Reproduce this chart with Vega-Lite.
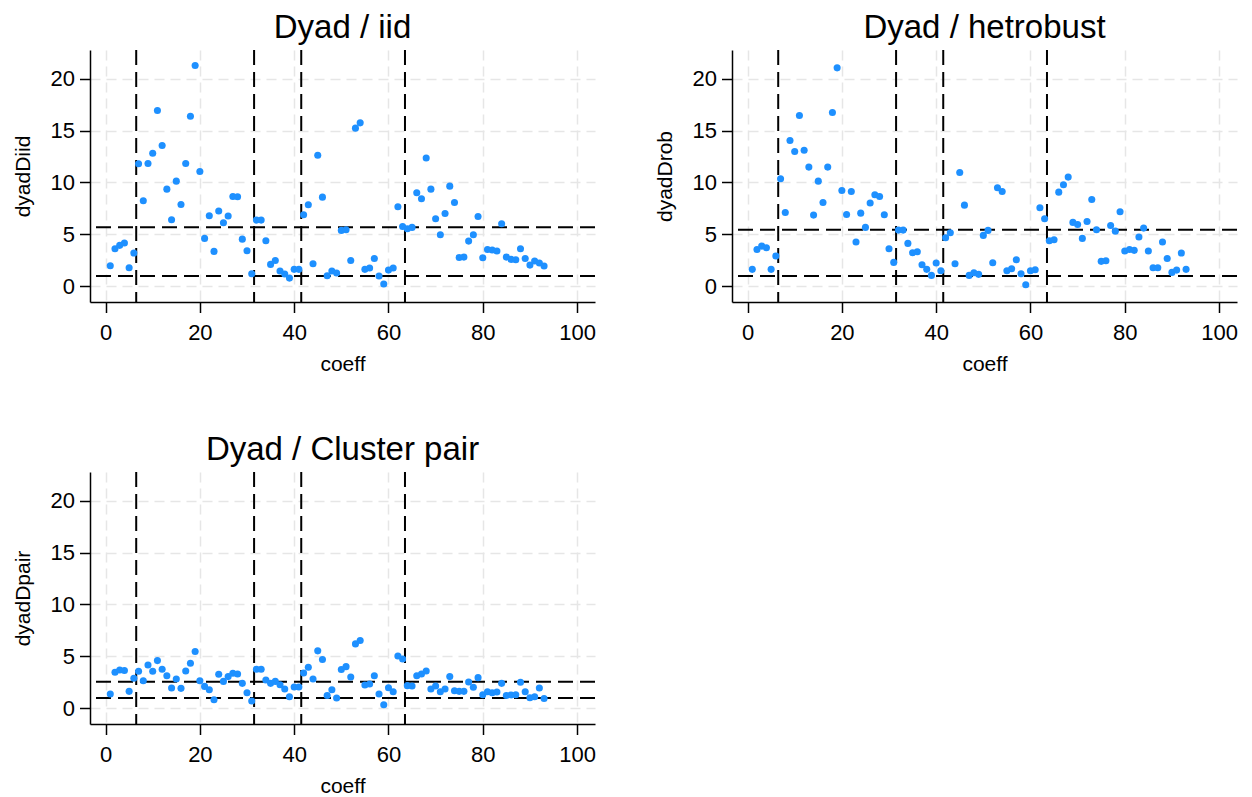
{
  "$schema": "https://vega.github.io/schema/vega-lite/v6.json",
  "background": "white",
  "padding": {"left": 12, "top": 12, "right": 0, "bottom": 0},
  "autosize": {"type": "pad"},
  "datasets": {
    "pts": [
      {"coeff":1,"iid":1.99,"rob":1.64,"pair":1.38},
      {"coeff":2,"iid":3.63,"rob":3.56,"pair":3.48},
      {"coeff":3,"iid":3.95,"rob":3.88,"pair":3.70},
      {"coeff":4,"iid":4.17,"rob":3.72,"pair":3.64},
      {"coeff":5,"iid":1.80,"rob":1.64,"pair":1.64},
      {"coeff":6,"iid":3.21,"rob":2.92,"pair":2.90},
      {"coeff":7,"iid":11.8,"rob":10.36,"pair":3.57},
      {"coeff":8,"iid":8.24,"rob":7.12,"pair":2.67},
      {"coeff":9,"iid":11.83,"rob":14.04,"pair":4.18},
      {"coeff":10,"iid":12.82,"rob":12.98,"pair":3.57},
      {"coeff":11,"iid":16.93,"rob":16.45,"pair":4.60},
      {"coeff":12,"iid":13.56,"rob":13.11,"pair":3.77},
      {"coeff":13,"iid":9.36,"rob":11.48,"pair":3.15},
      {"coeff":14,"iid":6.41,"rob":6.86,"pair":1.96},
      {"coeff":15,"iid":10.13,"rob":10.13,"pair":2.83},
      {"coeff":16,"iid":7.89,"rob":8.08,"pair":1.93},
      {"coeff":17,"iid":11.83,"rob":11.48,"pair":3.60},
      {"coeff":18,"iid":16.38,"rob":16.73,"pair":4.34},
      {"coeff":19,"iid":21.25,"rob":21.03,"pair":5.47},
      {"coeff":20,"iid":11.06,"rob":9.23,"pair":2.67},
      {"coeff":21,"iid":4.62,"rob":6.92,"pair":2.12},
      {"coeff":22,"iid":6.80,"rob":9.14,"pair":1.80},
      {"coeff":23,"iid":3.37,"rob":4.27,"pair":0.83},
      {"coeff":24,"iid":7.25,"rob":7.05,"pair":3.28},
      {"coeff":25,"iid":6.13,"rob":5.68,"pair":2.60},
      {"coeff":26,"iid":6.77,"rob":8.02,"pair":3.06},
      {"coeff":27,"iid":8.66,"rob":8.82,"pair":3.38},
      {"coeff":28,"iid":8.63,"rob":8.66,"pair":3.31},
      {"coeff":29,"iid":4.55,"rob":6.89,"pair":2.41},
      {"coeff":30,"iid":3.43,"rob":3.63,"pair":1.51},
      {"coeff":31,"iid":1.22,"rob":2.31,"pair":0.71},
      {"coeff":32,"iid":6.38,"rob":5.42,"pair":3.77},
      {"coeff":33,"iid":6.38,"rob":5.42,"pair":3.77},
      {"coeff":34,"iid":4.39,"rob":4.14,"pair":2.73},
      {"coeff":35,"iid":2.12,"rob":3.24,"pair":2.41},
      {"coeff":36,"iid":2.50,"rob":3.34,"pair":2.60},
      {"coeff":37,"iid":1.48,"rob":2.09,"pair":2.28},
      {"coeff":38,"iid":1.19,"rob":1.64,"pair":1.86},
      {"coeff":39,"iid":0.80,"rob":1.06,"pair":1.12},
      {"coeff":40,"iid":1.64,"rob":2.25,"pair":2.06},
      {"coeff":41,"iid":1.64,"rob":1.51,"pair":2.06},
      {"coeff":42,"iid":6.89,"rob":4.68,"pair":3.41},
      {"coeff":43,"iid":7.86,"rob":5.16,"pair":3.96},
      {"coeff":44,"iid":2.18,"rob":2.18,"pair":2.83},
      {"coeff":45,"iid":12.63,"rob":10.96,"pair":5.54},
      {"coeff":46,"iid":8.59,"rob":7.82,"pair":4.70},
      {"coeff":47,"iid":1.03,"rob":1.06,"pair":1.25},
      {"coeff":48,"iid":1.48,"rob":1.32,"pair":1.80},
      {"coeff":49,"iid":1.29,"rob":1.16,"pair":1.00},
      {"coeff":50,"iid":5.39,"rob":4.91,"pair":3.74},
      {"coeff":51,"iid":5.45,"rob":5.39,"pair":4.02},
      {"coeff":52,"iid":2.50,"rob":2.28,"pair":3.02},
      {"coeff":53,"iid":15.23,"rob":9.49,"pair":6.21},
      {"coeff":54,"iid":15.74,"rob":9.14,"pair":6.53},
      {"coeff":55,"iid":1.64,"rob":1.51,"pair":2.25},
      {"coeff":56,"iid":1.77,"rob":1.70,"pair":2.35},
      {"coeff":57,"iid":2.69,"rob":2.57,"pair":3.15},
      {"coeff":58,"iid":1.00,"rob":1.22,"pair":1.38},
      {"coeff":59,"iid":0.23,"rob":0.16,"pair":0.35},
      {"coeff":60,"iid":1.57,"rob":1.51,"pair":1.99},
      {"coeff":61,"iid":1.77,"rob":1.61,"pair":1.61},
      {"coeff":62,"iid":7.66,"rob":7.57,"pair":5.05},
      {"coeff":63,"iid":5.77,"rob":6.51,"pair":4.76},
      {"coeff":64,"iid":5.55,"rob":4.39,"pair":2.19},
      {"coeff":65,"iid":5.68,"rob":4.49,"pair":2.15},
      {"coeff":66,"iid":9.01,"rob":9.07,"pair":3.15},
      {"coeff":67,"iid":8.43,"rob":9.78,"pair":3.31},
      {"coeff":68,"iid":12.35,"rob":10.52,"pair":3.60},
      {"coeff":69,"iid":9.36,"rob":6.16,"pair":1.86},
      {"coeff":70,"iid":6.51,"rob":5.96,"pair":2.15},
      {"coeff":71,"iid":4.97,"rob":4.62,"pair":1.61},
      {"coeff":72,"iid":7.02,"rob":6.25,"pair":1.86},
      {"coeff":73,"iid":9.65,"rob":8.37,"pair":3.06},
      {"coeff":74,"iid":8.08,"rob":5.45,"pair":1.70},
      {"coeff":75,"iid":2.79,"rob":2.41,"pair":1.64},
      {"coeff":76,"iid":2.82,"rob":2.47,"pair":1.64},
      {"coeff":77,"iid":4.36,"rob":5.87,"pair":2.54},
      {"coeff":78,"iid":4.97,"rob":5.32,"pair":2.03},
      {"coeff":79,"iid":6.73,"rob":7.18,"pair":2.96},
      {"coeff":80,"iid":2.76,"rob":3.40,"pair":1.32},
      {"coeff":81,"iid":3.56,"rob":3.56,"pair":1.61},
      {"coeff":82,"iid":3.50,"rob":3.47,"pair":1.51},
      {"coeff":83,"iid":3.40,"rob":4.75,"pair":1.58},
      {"coeff":84,"iid":6.03,"rob":5.61,"pair":2.41},
      {"coeff":85,"iid":2.82,"rob":3.40,"pair":1.25},
      {"coeff":86,"iid":2.60,"rob":1.80,"pair":1.29},
      {"coeff":87,"iid":2.57,"rob":1.80,"pair":1.32},
      {"coeff":88,"iid":3.63,"rob":4.27,"pair":2.51},
      {"coeff":89,"iid":2.69,"rob":2.69,"pair":1.61},
      {"coeff":90,"iid":2.05,"rob":1.35,"pair":1.03},
      {"coeff":91,"iid":2.44,"rob":1.57,"pair":1.12},
      {"coeff":92,"iid":2.25,"rob":3.21,"pair":1.96},
      {"coeff":93,"iid":1.96,"rob":1.64,"pair":0.96}
    ],
    "vlines": [{"v":6.5},{"v":31.5},{"v":41.5},{"v":63.5}],
    "hl_iid": [{"h":1},{"h":5.7}],
    "hl_rob": [{"h":1},{"h":5.45}],
    "hl_pair": [{"h":1},{"h":2.57}]
  },
  "columns": 2,
  "bounds": "flush",
  "spacing": {"row": 170, "column": 137},
  "concat": [
    {
      "width": 505, "height": 252,
      "title": {"text": "Dyad / iid"},
      "layer": [
        {"data": {"name": "vlines"}, "mark": {"type": "rule", "color": "black", "strokeWidth": 2, "strokeDash": [15, 7]},
         "encoding": {"x": {"field": "v", "type": "quantitative", "scale": {"domain": [-3.3, 103.8], "nice": false, "zero": false}}}},
        {"data": {"name": "hl_iid"}, "mark": {"type": "rule", "color": "black", "strokeWidth": 2, "strokeDash": [15, 7]},
         "encoding": {"y": {"field": "h", "type": "quantitative", "scale": {"domain": [-1.5, 22.75], "nice": false, "zero": false}}}},
        {"data": {"name": "pts"}, "mark": {"type": "circle", "size": 50, "color": "#1e90ff", "opacity": 1},
         "encoding": {
           "x": {"field": "coeff", "type": "quantitative", "scale": {"domain": [-3.3, 103.8], "nice": false, "zero": false}, "axis": {"values": [0,20,40,60,80,100], "title": "coeff"}},
           "y": {"field": "iid", "type": "quantitative", "scale": {"domain": [-1.5, 22.75], "nice": false, "zero": false}, "axis": {"values": [0,5,10,15,20], "title": "dyadDiid"}}
         }}
      ]
    },
    {
      "width": 505, "height": 252,
      "title": {"text": "Dyad / hetrobust"},
      "layer": [
        {"data": {"name": "vlines"}, "mark": {"type": "rule", "color": "black", "strokeWidth": 2, "strokeDash": [15, 7]},
         "encoding": {"x": {"field": "v", "type": "quantitative", "scale": {"domain": [-3.3, 103.8], "nice": false, "zero": false}}}},
        {"data": {"name": "hl_rob"}, "mark": {"type": "rule", "color": "black", "strokeWidth": 2, "strokeDash": [15, 7]},
         "encoding": {"y": {"field": "h", "type": "quantitative", "scale": {"domain": [-1.5, 22.75], "nice": false, "zero": false}}}},
        {"data": {"name": "pts"}, "mark": {"type": "circle", "size": 50, "color": "#1e90ff", "opacity": 1},
         "encoding": {
           "x": {"field": "coeff", "type": "quantitative", "scale": {"domain": [-3.3, 103.8], "nice": false, "zero": false}, "axis": {"values": [0,20,40,60,80,100], "title": "coeff"}},
           "y": {"field": "rob", "type": "quantitative", "scale": {"domain": [-1.5, 22.75], "nice": false, "zero": false}, "axis": {"values": [0,5,10,15,20], "title": "dyadDrob"}}
         }}
      ]
    },
    {
      "width": 505, "height": 252,
      "title": {"text": "Dyad / Cluster pair"},
      "layer": [
        {"data": {"name": "vlines"}, "mark": {"type": "rule", "color": "black", "strokeWidth": 2, "strokeDash": [15, 7]},
         "encoding": {"x": {"field": "v", "type": "quantitative", "scale": {"domain": [-3.3, 103.8], "nice": false, "zero": false}}}},
        {"data": {"name": "hl_pair"}, "mark": {"type": "rule", "color": "black", "strokeWidth": 2, "strokeDash": [15, 7]},
         "encoding": {"y": {"field": "h", "type": "quantitative", "scale": {"domain": [-1.5, 22.75], "nice": false, "zero": false}}}},
        {"data": {"name": "pts"}, "mark": {"type": "circle", "size": 50, "color": "#1e90ff", "opacity": 1},
         "encoding": {
           "x": {"field": "coeff", "type": "quantitative", "scale": {"domain": [-3.3, 103.8], "nice": false, "zero": false}, "axis": {"values": [0,20,40,60,80,100], "title": "coeff"}},
           "y": {"field": "pair", "type": "quantitative", "scale": {"domain": [-1.5, 22.75], "nice": false, "zero": false}, "axis": {"values": [0,5,10,15,20], "title": "dyadDpair"}}
         }}
      ]
    }
  ],
  "config": {
    "view": {"stroke": null},
    "font": "Liberation Sans",
    "title": {"font": "Liberation Sans", "fontSize": 33, "fontWeight": "normal", "color": "black", "offset": 4, "anchor": "middle"},
    "axis": {
      "labelFont": "Liberation Sans", "labelFontSize": 22, "labelColor": "black",
      "titleFont": "Liberation Sans", "titleFontSize": 21, "titleFontWeight": "normal", "titleColor": "black",
      "domainColor": "black", "domainWidth": 1.5,
      "tickColor": "black", "tickWidth": 1.5, "tickSize": 10.5,
      "grid": true, "gridColor": "#e6e6e6", "gridWidth": 1.5, "gridDash": [10, 6]
    },
    "axisX": {"labelPadding": 9.5, "titlePadding": 10, "labelFlush": false, "labelOverlap": false},
    "axisY": {"labelPadding": 5, "titlePadding": 17, "labelAngle": 0, "labelFlush": false, "labelOverlap": false}
  }
}
